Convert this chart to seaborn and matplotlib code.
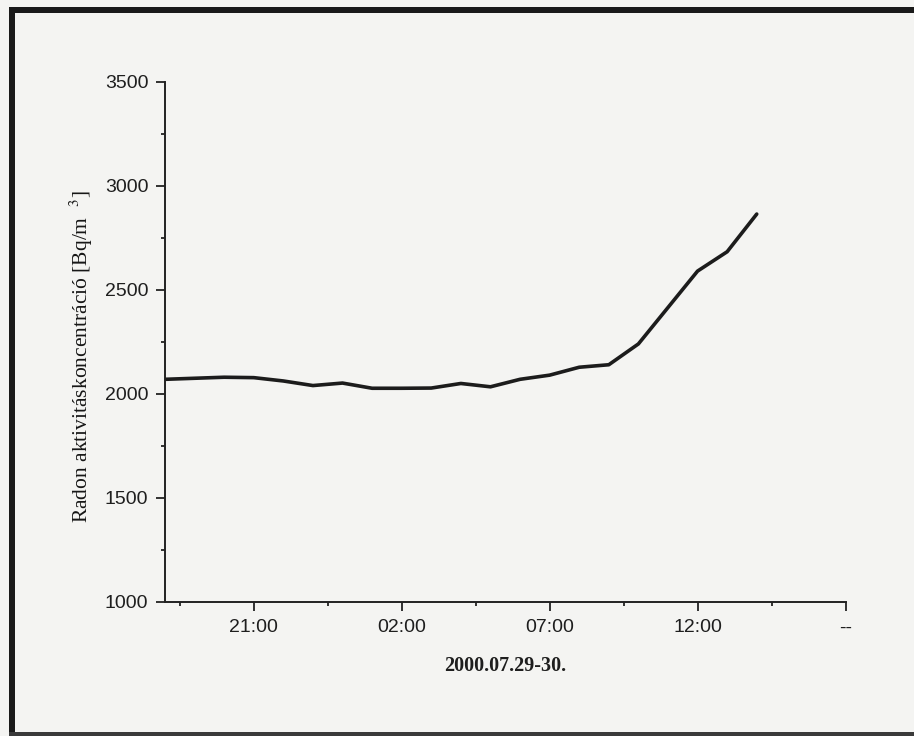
import matplotlib
matplotlib.use("Agg")
import matplotlib.pyplot as plt
from matplotlib.patches import Rectangle
from matplotlib.ticker import FixedLocator, FixedFormatter
import seaborn as sns
import pandas as pd

# ---- data ----
times = ["18:00", "19:00", "20:00", "21:00", "22:00", "23:00", "00:00",
         "01:00", "02:00", "03:00", "04:00", "05:00", "06:00", "07:00",
         "08:00", "09:00", "10:00", "11:00", "12:00", "13:00", "14:00"]
radon = [2070, 2075, 2080, 2078, 2062, 2040, 2052,
         2027, 2027, 2028, 2050, 2034, 2070, 2090,
         2128, 2140, 2240, 2415, 2590, 2683, 2864]
major_labels = ["21:00", "02:00", "07:00", "12:00", "--"]
major_times = ["21:00", "02:00", "07:00", "12:00", "17:00"]
minor_times = ["18:30", "23:30", "04:30", "09:30", "14:30"]
y_ticks = [1000, 1500, 2000, 2500, 3000, 3500]
y_minor = [1250, 1750, 2250, 2750, 3250]
x_label = "2000.07.29-30."
y_label = r"Radon aktivitáskoncentráció [Bq/m  $^{3}$]"
start_time = "18:00"
end_time = "17:00"


def hours_since_start(s):
    h, m = map(int, s.split(":"))
    h0, m0 = map(int, start_time.split(":"))
    return ((h * 60 + m) - (h0 * 60 + m0)) % (24 * 60) / 60.0


df = pd.DataFrame({"t": [hours_since_start(s) for s in times], "radon": radon})

sns.set_theme(style="ticks")
plt.rcParams["font.family"] = ["Liberation Sans", "DejaVu Sans"]
plt.rcParams["mathtext.fontset"] = "stix"

bg = "#f4f4f2"
fig = plt.figure(figsize=(9.14, 7.36), dpi=100, facecolor=bg)
ax = fig.add_axes([165 / 914, 1 - 602 / 736, (845.5 - 165) / 914, (602 - 81.7) / 736])
ax.set_facecolor(bg)

sns.lineplot(data=df, x="t", y="radon", ax=ax, color="#1c1c1c", linewidth=2.6)

ax.set_xlim(0, hours_since_start(end_time))
ax.set_ylim(min(y_ticks), max(y_ticks))

ax.xaxis.set_major_locator(FixedLocator([hours_since_start(s) for s in major_times]))
ax.xaxis.set_major_formatter(FixedFormatter(major_labels))
ax.xaxis.set_minor_locator(FixedLocator([hours_since_start(s) for s in minor_times]))
ax.set_yticks(y_ticks)
ax.set_yticks(y_minor, minor=True)

for side in ["top", "right"]:
    ax.spines[side].set_visible(False)
for side in ["left", "bottom"]:
    ax.spines[side].set_color("#222222")
    ax.spines[side].set_linewidth(1.4)

ax.tick_params(axis="both", which="major", direction="out", length=6.5, width=1.3,
               color="#222222", labelsize=14, labelcolor="#1e1e1e", pad=5.5)
ax.tick_params(axis="both", which="minor", direction="out", length=3.2, width=1.3,
               color="#222222")
ax.tick_params(axis="x", which="major", pad=6)

ax.set_xlabel(x_label, fontfamily="Liberation Serif", fontweight="bold",
              fontsize=14.5, color="#1e1e1e", labelpad=14)
ax.set_ylabel("")
fig.text(81 / 914, 1 - 357 / 736, y_label, rotation=90, ha="center", va="center",
         fontfamily="Liberation Serif", fontsize=15.5, color="#161616")

# scanned page frame
frame_col = "#1a1a1a"
fig.patches.append(Rectangle((9 / 914, 1 - 13 / 736), 1, 6 / 736, transform=fig.transFigure,
                             facecolor=frame_col, edgecolor="none"))
fig.patches.append(Rectangle((9 / 914, 0), 6 / 914, 1 - 7 / 736, transform=fig.transFigure,
                             facecolor=frame_col, edgecolor="none"))
fig.patches.append(Rectangle((9 / 914, 0), 1, 4 / 736, transform=fig.transFigure,
                             facecolor="#3a3a3a", edgecolor="none"))

fig.savefig("out.png", dpi=100, facecolor=bg)
